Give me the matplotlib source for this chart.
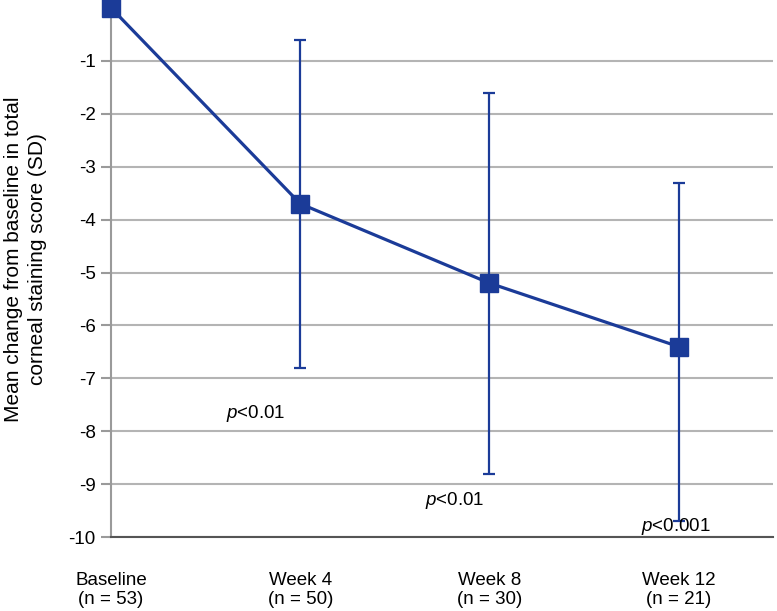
import numpy as np
import matplotlib.pyplot as plt

plt.rcParams['font.family'] = ['Liberation Sans', 'DejaVu Sans']
plt.rcParams['mathtext.fontset'] = 'custom'
plt.rcParams['mathtext.it'] = 'Liberation Sans:italic'
plt.rcParams['mathtext.rm'] = 'Liberation Sans'
plt.rcParams['axes.unicode_minus'] = False

# data
timepoints = ['Baseline\n(n = 53)', 'Week 4\n(n = 50)', 'Week 8\n(n = 30)', 'Week 12\n(n = 21)']
mean_change = [0.0, -3.7, -5.2, -6.4]
err_upper = [-0.6, -1.6, -3.3]   # upper end of SD bar (weeks 4, 8, 12)
err_lower = [-6.8, -8.8, -9.7]   # lower end of SD bar
p_labels = ['$p$<0.01', '$p$<0.01', '$p$<0.001']

blue = '#1b3b98'
x = np.arange(len(timepoints))

fig = plt.figure(figsize=(7.77, 6.11), dpi=100)
ax = fig.add_axes([0.143, 0.121, 0.852, 0.866])

# gridlines
ax.set_axisbelow(True)
ax.yaxis.grid(True, color='#b4b4b4', linewidth=1.5)

# SD error bars for follow-up visits
m = np.array(mean_change[1:])
yerr = [m - np.array(err_lower), np.array(err_upper) - m]
ax.errorbar(x[1:], m, yerr=yerr, fmt='none', ecolor=blue, elinewidth=1.6,
            capsize=4, capthick=1.6, zorder=3)

# mean line
ax.plot(x, mean_change, color=blue, linewidth=2.3, marker='s', markersize=12.5,
        clip_on=False, zorder=4)

# p-value annotations
p_pos = [(0.61, -7.66), (1.66, -9.3), (2.80, -9.8)]
for (px, py), lab in zip(p_pos, p_labels):
    ax.text(px, py, lab, fontsize=13.5, ha='left', va='center', zorder=5)

ax.set_xlim(0, 3.5)
ax.set_ylim(-10, 0)
ax.set_yticks(range(-10, 0))
ax.set_xticks(x)
ax.set_xticklabels(timepoints, fontsize=13.5, linespacing=1.15)
ax.tick_params(axis='x', length=0, pad=25)
ax.tick_params(axis='y', length=7, width=1.5, color='#9a9a9a', labelsize=13.5, pad=4)

for s in ['top', 'right']:
    ax.spines[s].set_visible(False)
ax.spines['left'].set_color('#9a9a9a')
ax.spines['left'].set_linewidth(1.5)
ax.spines['bottom'].set_color('#555555')
ax.spines['bottom'].set_linewidth(1.5)

ax.set_ylabel('Mean change from baseline in total\ncorneal staining score (SD)',
              fontsize=15, linespacing=1.35)
ax.yaxis.set_label_coords(-0.097, 0.525)

fig.savefig('out.png', dpi=100)
